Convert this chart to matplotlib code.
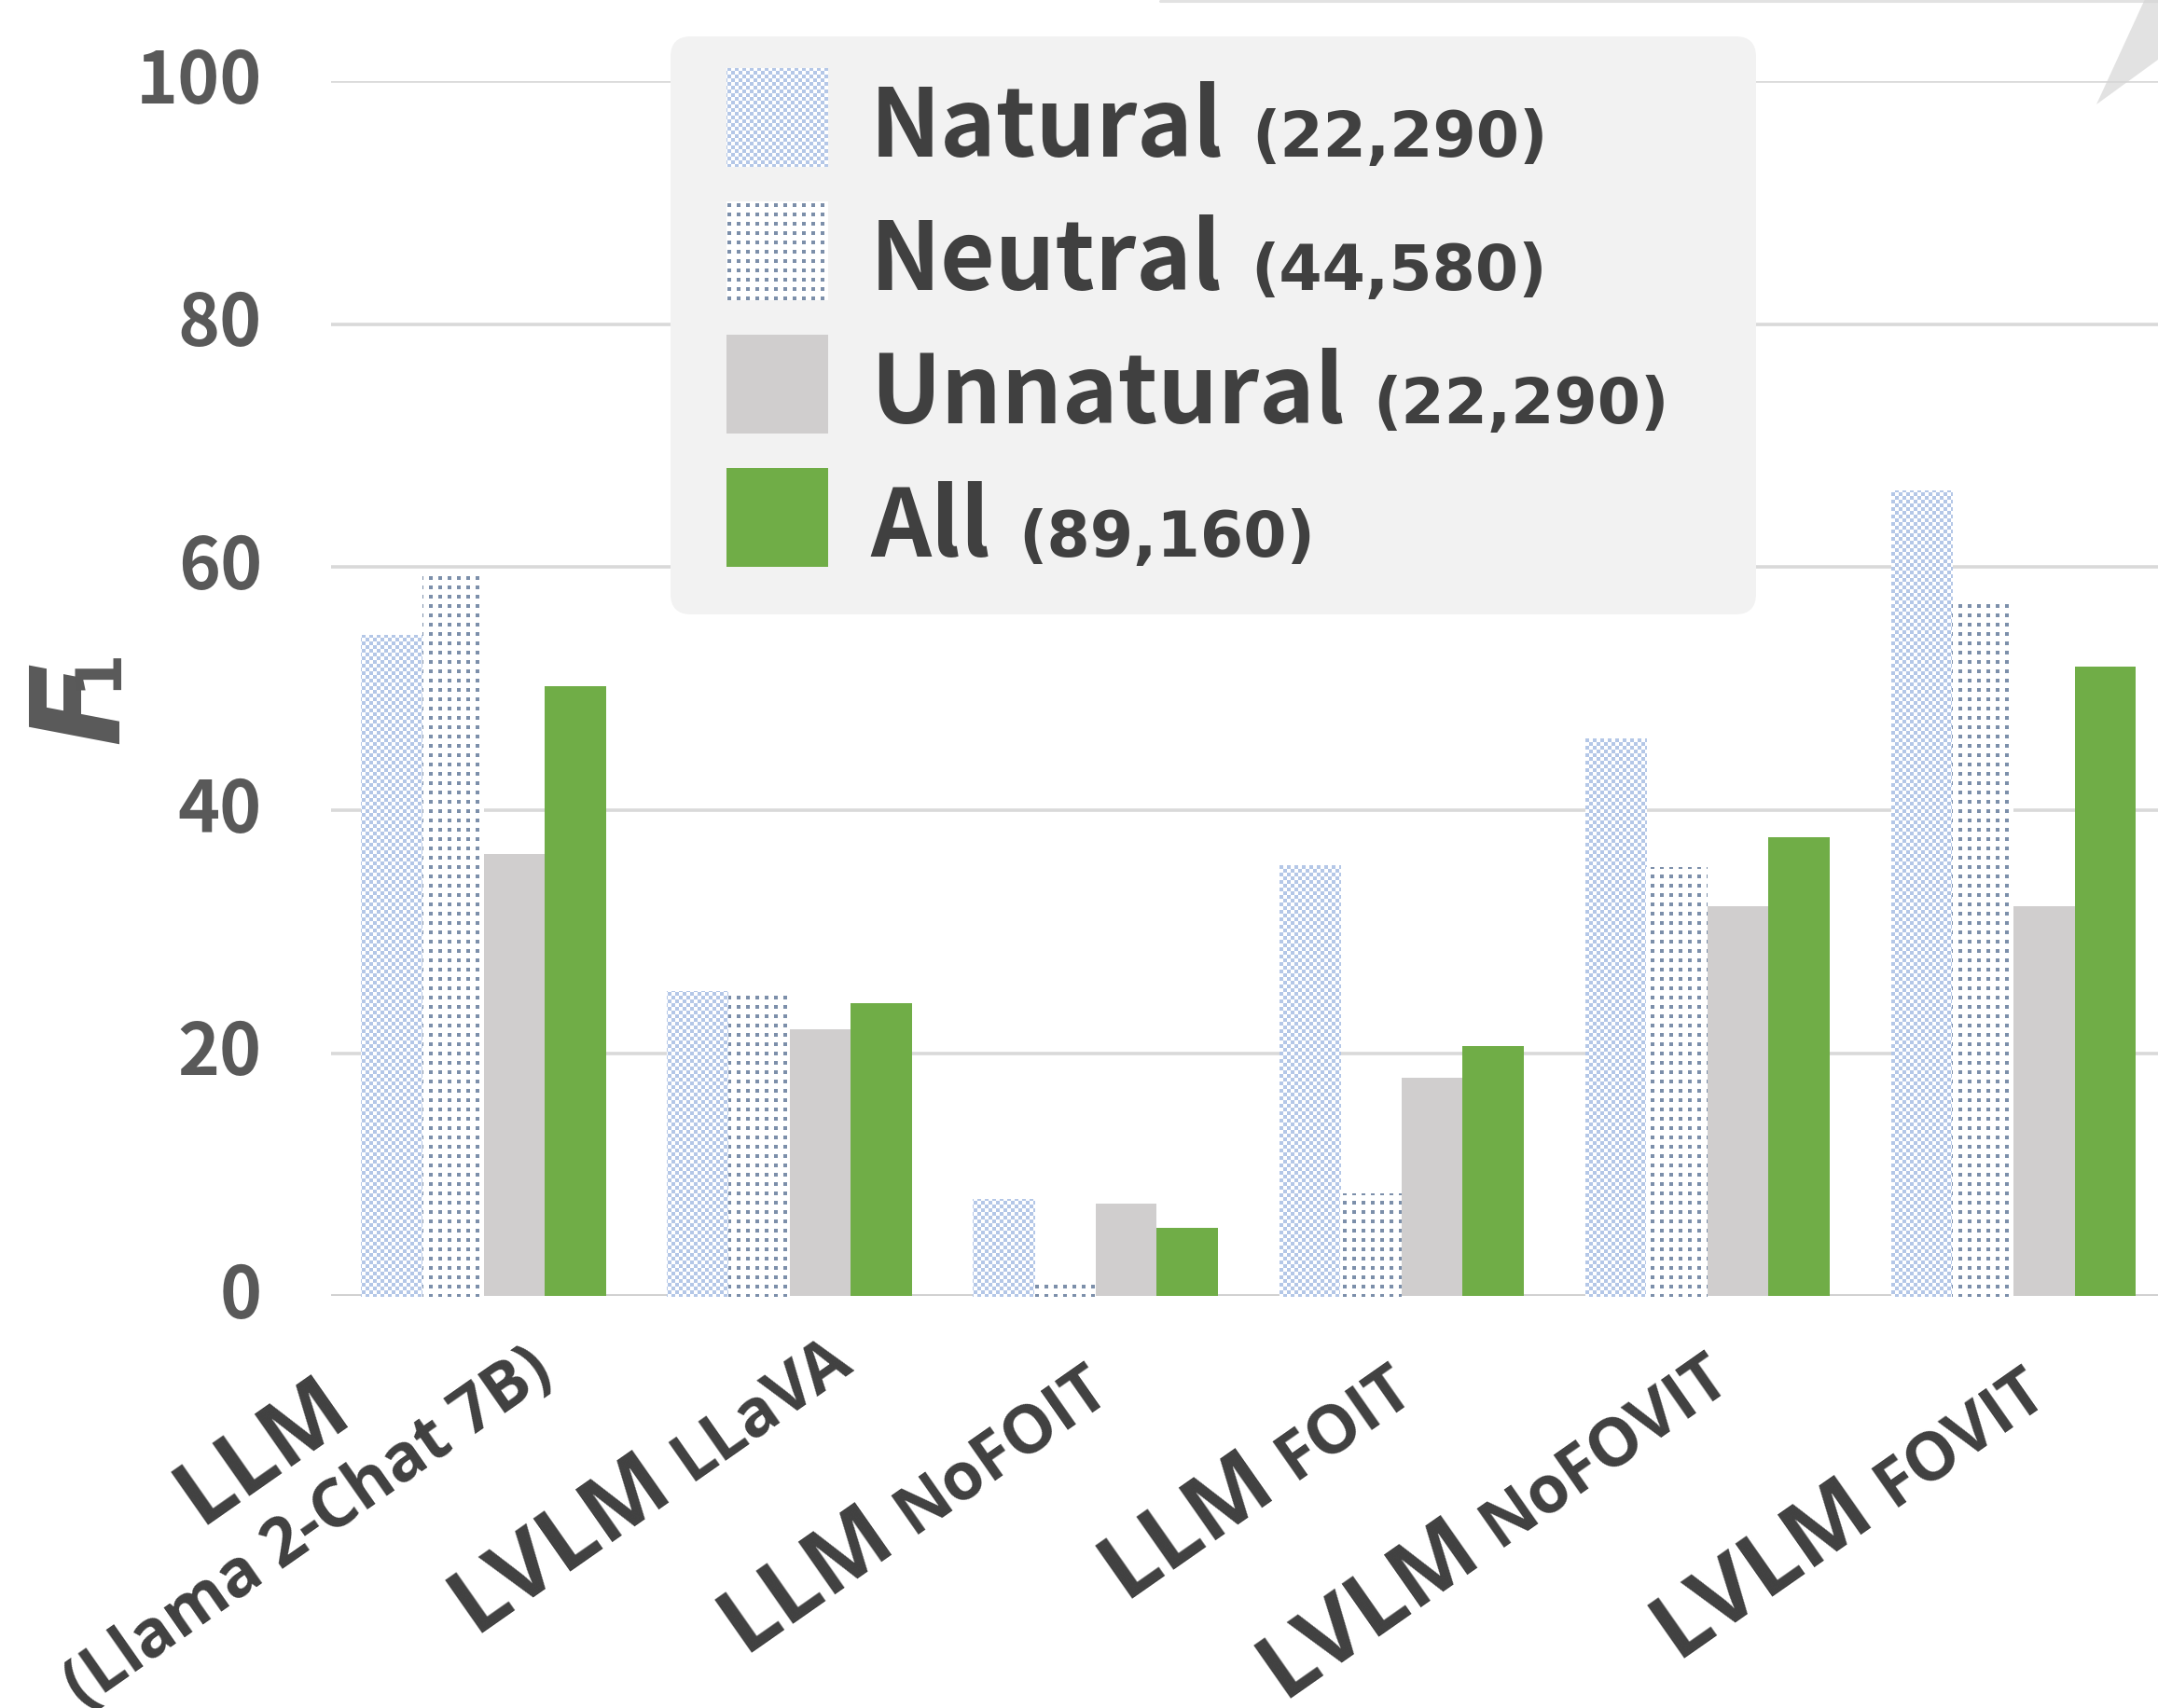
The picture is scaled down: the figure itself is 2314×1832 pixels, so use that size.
import numpy as np
import matplotlib
matplotlib.use("Agg")
import matplotlib.pyplot as plt
from matplotlib import font_manager as fm
from matplotlib.patches import Rectangle, FancyBboxPatch, Polygon
from matplotlib.lines import Line2D
from matplotlib.transforms import IdentityTransform

# ---------------- data ----------------
model_main = ["LLM", "LVLM", "LLM", "LLM", "LVLM", "LVLM"]
model_sub = ["(Llama 2-Chat 7B)", "LLaVA", "NoFOIT", "FOIT", "NoFOVIT", "FOVIT"]
series_names = ["Natural", "Neutral", "Unnatural", "All"]
series_counts = ["(22,290)", "(44,580)", "(22,290)", "(89,160)"]
natural = [54.4, 25.1, 8.0, 35.5, 45.9, 66.3]
neutral = [59.7, 25.1, 1.4, 8.5, 35.3, 57.0]
unnatural = [36.4, 22.0, 7.6, 18.0, 32.1, 32.1]
all_data = [50.2, 24.1, 5.6, 20.6, 37.8, 51.8]
y_ticks = [0, 20, 40, 60, 80, 100]

# ---------------- style ----------------
W, H = 2314, 1833
NAT_RGB = (180, 199, 231)
NEU_RGB = (124, 143, 170)
GRAY = "#d0cece"
GREEN = "#70ad47"
TEXT = "#404040"
TICK = "#595959"


def bold_family(candidates):
    """First candidate family that really provides an upright bold face."""
    for name in candidates:
        try:
            path = fm.findfont(fm.FontProperties(family=name, weight="bold"),
                               fallback_to_default=False)
            ft = fm.get_font(path)
        except Exception:
            continue
        if ft.family_name == name and "bold" in ft.style_name.lower() \
                and "italic" not in ft.style_name.lower():
            return name
    return "DejaVu Sans"


UPRIGHT = bold_family(["Noto Sans CJK JP"])
LABEL = bold_family(["Noto Sans", "Open Sans", "Liberation Sans"])
WIDE = "DejaVu Sans"

fig = plt.figure(figsize=(W / 100, H / 100), dpi=100)
fig.patch.set_facecolor("white")
ax_left, ax_right, ax_bot, ax_top = 354.5, 2323.0, 1391.4, 88.0
ax = fig.add_axes([ax_left / W, (H - ax_bot) / H,
                   (ax_right - ax_left) / W, (ax_bot - ax_top) / H])
ax.patch.set_visible(False)

x = np.arange(len(model_main))
bw = 0.2
series = [natural, neutral, unnatural, all_data]
faces = ["white", "white", GRAY, GREEN]
bar_sets = []
for i, (vals, fc) in enumerate(zip(series, faces)):
    bars = ax.bar(x + (i - 1.5) * bw, vals, bw, color=fc, linewidth=0, zorder=2)
    bar_sets.append(bars)

ax.set_xlim(-0.5, 5.5)
ax.set_ylim(0, 100)
ax.set_yticks(y_ticks)
ax.set_xticks([])
ax.grid(axis="y", color="#d9d9d9", linewidth=2.6, zorder=0)
ax.set_axisbelow(True)
ax.axhline(0, color="#d0d0d0", linewidth=2.6, zorder=1)
for sp in ax.spines.values():
    sp.set_visible(False)
ax.tick_params(axis="y", length=0, pad=53, labelsize=55, labelcolor=TICK)
for lab in ax.get_yticklabels():
    lab.set_fontfamily(UPRIGHT)
    lab.set_fontweight("bold")
    lab.set_verticalalignment("center")


def texture(kind, x0, y0, w, h):
    yy, xx = np.mgrid[y0:y0 + h, x0:x0 + w]
    img = np.full((h, w, 4), 255, np.uint8)
    if kind == "checker":
        m = ((xx // 4 + yy // 4) % 2) == 0
        img[m, :3] = NAT_RGB
    else:
        m = ((xx % 10) < 4) & ((yy % 10) < 4)
        img[m, :3] = NEU_RGB
    return img


def fill_texture(patch, kind):
    bb = patch.get_window_extent()
    x0, y0 = int(np.floor(bb.x0)), int(np.floor(bb.y0))
    w = int(np.ceil(bb.x1)) - x0
    h = int(np.ceil(bb.y1)) - y0
    if w <= 0 or h <= 0:
        return
    im = fig.figimage(texture(kind, x0, y0, w, h), xo=x0, yo=y0, origin="lower", zorder=1.5)
    im.set_clip_path(patch)


for bar in bar_sets[0]:
    fill_texture(bar, "checker")
for bar in bar_sets[1]:
    fill_texture(bar, "dots")

fig.canvas.draw()
renderer = fig.canvas.get_renderer()
PIX = IdentityTransform()


def text_width(s, **kw):
    t = fig.text(0, 0, s, transform=PIX, **kw)
    w = t.get_window_extent(renderer).width
    t.remove()
    return w


# ---------------- legend ----------------
lg_x0, lg_x1, lg_top, lg_bot = 719, 1883, 40, 660
box = FancyBboxPatch((lg_x0, H - lg_bot), lg_x1 - lg_x0, lg_bot - lg_top,
                     boxstyle="round,pad=0,rounding_size=22",
                     facecolor="#f2f2f2", edgecolor="none", transform=PIX, zorder=3)
fig.add_artist(box)
key_x, key_w, key_h, key_top0, pitch = 779, 109, 106, 74, 143
name_kw = dict(fontsize=73, fontweight="bold", family=UPRIGHT, color=TEXT)
count_kw = dict(fontsize=48, fontweight="bold", family=WIDE, color=TEXT)
key_kinds = ["checker", "dots", GRAY, GREEN]
for i, (name, cnt, kind) in enumerate(zip(series_names, series_counts, key_kinds)):
    top = key_top0 + i * pitch
    base = H - (top + key_h - 12)
    if kind in ("checker", "dots"):
        key = Rectangle((key_x, H - top - key_h), key_w, key_h, facecolor="white",
                        edgecolor="none", transform=PIX, zorder=4)
        fig.add_artist(key)
        img = texture(kind, key_x, H - top - key_h, key_w, key_h)
        fig.figimage(img, xo=key_x, yo=H - top - key_h, origin="lower", zorder=5)
    else:
        key = Rectangle((key_x, H - top - key_h), key_w, key_h, facecolor=kind,
                        edgecolor="none", transform=PIX, zorder=4)
        fig.add_artist(key)
    fig.text(933, base, name, transform=PIX, ha="left", va="baseline", zorder=6, **name_kw)
    wn = text_width(name, **name_kw)
    fig.text(933 + wn + 30, base, cnt, transform=PIX, ha="left", va="baseline",
             zorder=6, **count_kw)

# ---------------- category labels ----------------
rot = 35.0
ca, sa = np.cos(np.radians(rot)), np.sin(np.radians(rot))
big_kw = dict(fontsize=70, fontweight="bold", family=LABEL, color=TEXT)
small_kw = dict(fontsize=51, fontweight="bold", family=LABEL, color=TEXT)
rkw = dict(rotation=rot, rotation_mode="anchor", transform=PIX, va="baseline")
centers = ax.transData.transform(np.column_stack([x, np.zeros_like(x, dtype=float)]))[:, 0]

# first category: two centred lines (baseline centres, pixels from top-left)
fig.text(297, H - 1578, model_main[0], ha="center", **rkw, **big_kw)
fig.text(342, H - 1656, model_sub[0], ha="center", **rkw, **small_kw)

# other categories: baseline end of the suffix, offset from the group centre
label_dx = [0, 70, 18, 15, 27, 38]
label_y = [0, 1466, 1496, 1496, 1484, 1499]
gap = 20
for i in range(1, len(model_main)):
    axp, ayp = centers[i] + label_dx[i], H - label_y[i]
    ws = text_width(model_sub[i], **small_kw)
    fig.text(axp, ayp, model_sub[i], ha="right", **rkw, **small_kw)
    ex, ey = axp - (ws + gap) * ca, ayp - (ws + gap) * sa
    fig.text(ex, ey, model_main[i], ha="right", **rkw, **big_kw)

# ---------------- y axis title ----------------
fig.text(126, H - 798, "F", transform=PIX, rotation=90, rotation_mode="anchor",
         ha="left", va="baseline", fontsize=94, fontweight="bold", family=WIDE,
         style="oblique", color=TICK)
fig.text(123, H - 740, "1", transform=PIX, rotation=90, rotation_mode="anchor",
         ha="left", va="baseline", fontsize=48, fontweight="bold", family=WIDE,
         color=TICK)

# ---------------- slide decorations ----------------
fig.add_artist(Line2D([1244, W], [H - 1.5, H - 1.5], color="#e2e2e2", linewidth=2.2,
                      solid_capstyle="round", transform=PIX, zorder=3))
fig.add_artist(Polygon([(2300, H), (W, H), (W, H - 65), (2248, H - 113)], closed=True,
                       facecolor="#d6d6d6", alpha=0.7, edgecolor="none",
                       transform=PIX, zorder=3))

fig.savefig("out.png", dpi=100, facecolor="white")
